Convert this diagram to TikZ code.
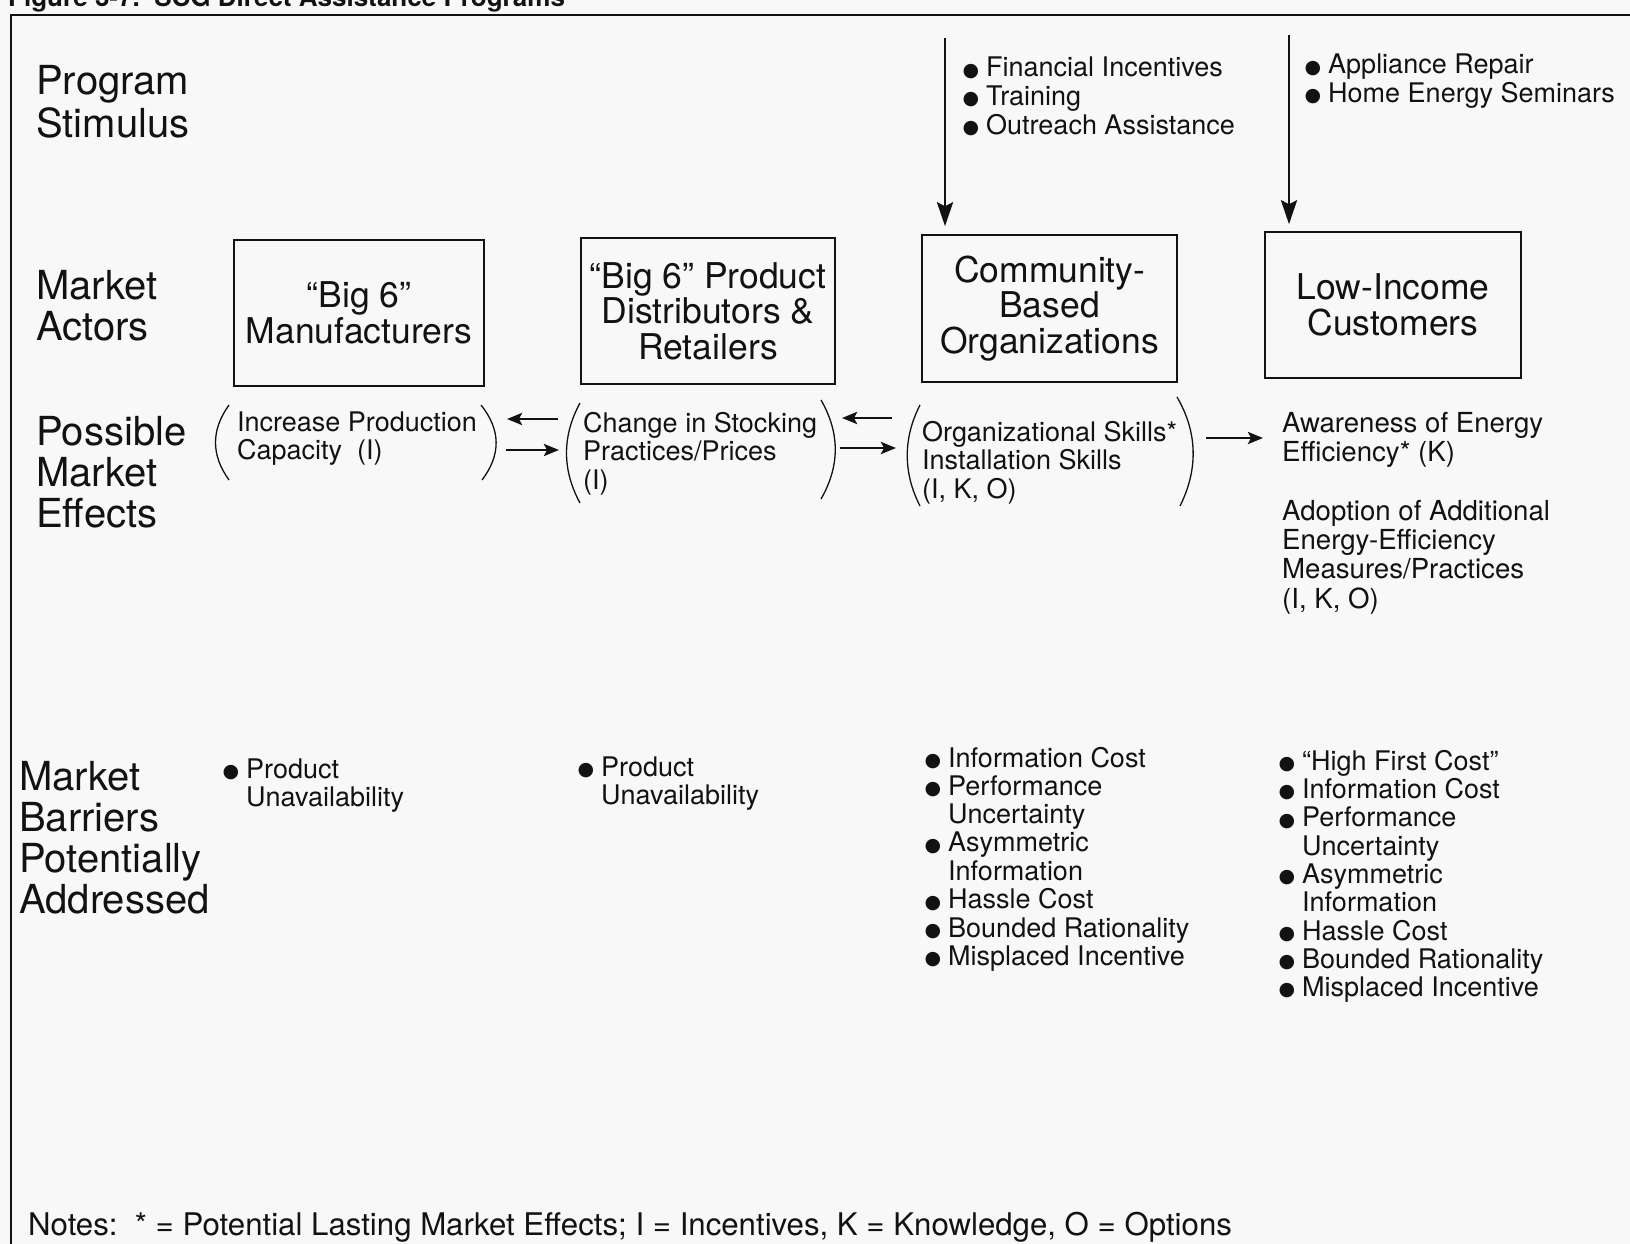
\documentclass[tikz,border=0pt]{standalone}
\usepackage{fontspec}
\usepackage{graphicx}
\setmainfont{TeX Gyre Heros}
\newfontfamily\dotfont{DejaVu Sans}
\usetikzlibrary{arrows.meta}
\definecolor{paper}{RGB}{248,248,248}
\definecolor{ink}{RGB}{18,18,18}
% left-aligned stack of lines whose baseline is the first line
\newcommand\rows[2][l]{\begin{tabular}[t]{@{}#1@{}}#2\end{tabular}}
% hanging bullet in front of a list entry
\newcommand\bul{\llap{\raisebox{0.8pt}{\dotfont\fontsize{19}{19}\selectfont ●}\hspace{7pt}}}
\begin{document}
\begin{tikzpicture}[x=1pt,y=-1pt,
  txt/.style={anchor=base west, inner sep=0pt, text=ink},
  rowlabel/.style={txt, font=\fontsize{40}{40.5}\selectfont},
  small/.style={txt, font=\fontsize{27}{28.6}\selectfont},
  actor/.style={draw=ink, line width=1.5pt, align=center, text=ink,
    font=\fontsize{35.5}{35.5}\selectfont, inner sep=0pt},
  paren/.style={draw=ink, line width=1.3pt},
  push/.style={draw=ink, line width=2.8pt, -{Stealth[length=24pt,width=16pt,inset=4pt]}},
  flow/.style={draw=ink, line width=2.8pt, -{Stealth[length=15pt,width=12pt,inset=3pt]}},
]
\fill[paper] (0,0) rectangle (1630,1244);
\useasboundingbox (0,0) rectangle (1630,1244);

% title and frame
\node[txt, font=\bfseries\fontsize{26}{26}\selectfont] (title) at (8,7)
  {Figure 3-7.\ \ SCG Direct Assistance Programs};
\draw[ink, line width=2.8pt] (11,1244) -- (11,15) -- (1630,15);

% row headings
\node[rowlabel] (lstim) at (36,95) {\rows{Program\\Stimulus}};
\node[rowlabel] (lact) at (36,299) {\rows{Market\\Actors}};
\node[rowlabel] (leff) at (36,445) {\rows{Possible\\Market\\Effects}};
\node[rowlabel] (lbar) at (19,790) {\rows{Market\\Barriers\\Potentially\\Addressed}};

% market actors
\node[actor, minimum width=250, minimum height=146] (mfr) at (359,313)
  {“Big 6”\\Manufacturers};
\node[actor, minimum width=254, minimum height=146] (dist) at (708,311)
  {“Big 6” Product\\Distributors \&\\Retailers};
\node[actor, minimum width=255, minimum height=147] (cbo) at (1049.5,308.5)
  {Community-\\Based\\Organizations};
\node[actor, minimum width=256, minimum height=146] (lic) at (1393,305)
  {Low-Income\\Customers};

% program stimulus
\node[small] (stim1) at (986,77)
  {\rows{\bul Financial Incentives\\ \bul Training\\ \bul Outreach Assistance}};
\node[small, font=\fontsize{27}{28}\selectfont] (stim2) at (1328,74)
  {\rows{\bul Appliance Repair\\ \bul Home Energy Seminars}};
\coordinate (s1a) at (945,38);
\coordinate (s2a) at (1289,35);
\draw[push, shorten >=8pt] (s1a) -- (s1a |- cbo.north);
\draw[push, shorten >=7pt] (s2a) -- (s2a |- lic.north);

% possible market effects
\node[small] (eff1) at (237,431) {\rows{Increase Production\\Capacity~~(I)}};
\node[small] (eff2) at (583,432) {\rows{Change in Stocking\\Practices/Prices\\(I)}};
\node[small] (eff3) at (922,441) {\rows{Organizational Skills*\\Installation Skills\\(I, K, O)}};
\node[small, font=\fontsize{27.6}{29.4}\selectfont] (eff4) at (1282,432)
  {\rows{Awareness of Energy\\Efficiency* (K)}};
\node[small, font=\fontsize{27.6}{29.4}\selectfont] (eff5) at (1282,520)
  {\rows{Adoption of Additional\\Energy-Efficiency\\Measures/Practices\\(I, K, O)}};

% brackets round the effects
\draw[paren] (229,405) .. controls (211,430) and (211,455) .. (229,480);
\draw[paren] (481,405) .. controls (501,430) and (501,455) .. (482,480);
\draw[paren] (580,403) .. controls (562,436) and (562,470) .. (580,503);
\draw[paren] (821,400) .. controls (840,433) and (840,466) .. (821,499);
\draw[paren] (920,405) .. controls (903,438) and (903,473) .. (920,506);
\draw[paren] (1177,397) .. controls (1198,433) and (1198,470) .. (1180,506);

% effect links
\coordinate (a1t) at (558,419); \coordinate (a1h) at (507,419);
\coordinate (b1t) at (506,450); \coordinate (b1h) at (559,450);
\coordinate (a2t) at (892,418); \coordinate (a2h) at (842,418);
\coordinate (b2t) at (840,448); \coordinate (b2h) at (896,448);
\coordinate (c3t) at (1206,438); \coordinate (c3h) at (1263,438);
\draw[flow] (a1t) -- (a1h);
\draw[flow] (b1t) -- (b1h);
\draw[flow] (a2t) -- (a2h);
\draw[flow] (b2t) -- (b2h);
\draw[flow] (c3t) -- (c3h);

% market barriers
\node[small] (bar1) at (246,778) {\rows{\bul Product\\Unavailability}};
\node[small] (bar2) at (601,776) {\rows{\bul Product\\Unavailability}};
\node[small, font=\fontsize{27}{28.3}\selectfont] (bar3) at (948,767)
  {\rows{\bul Information Cost\\ \bul Performance\\Uncertainty\\ \bul Asymmetric\\Information\\
   \bul Hassle Cost\\ \bul Bounded Rationality\\ \bul Misplaced Incentive}};
\node[small, font=\fontsize{27}{28.2}\selectfont] (bar4) at (1302,770)
  {\rows{\bul “High First Cost”\\ \bul Information Cost\\ \bul Performance\\Uncertainty\\
   \bul Asymmetric\\Information\\ \bul Hassle Cost\\ \bul Bounded Rationality\\
   \bul Misplaced Incentive}};

% key
\node[txt, font=\fontsize{31.2}{31.2}\selectfont] (notes) at (28,1235)
  {Notes:\ \ * = Potential Lasting Market Effects; I = Incentives, K = Knowledge, O = Options};
\end{tikzpicture}
\end{document}
